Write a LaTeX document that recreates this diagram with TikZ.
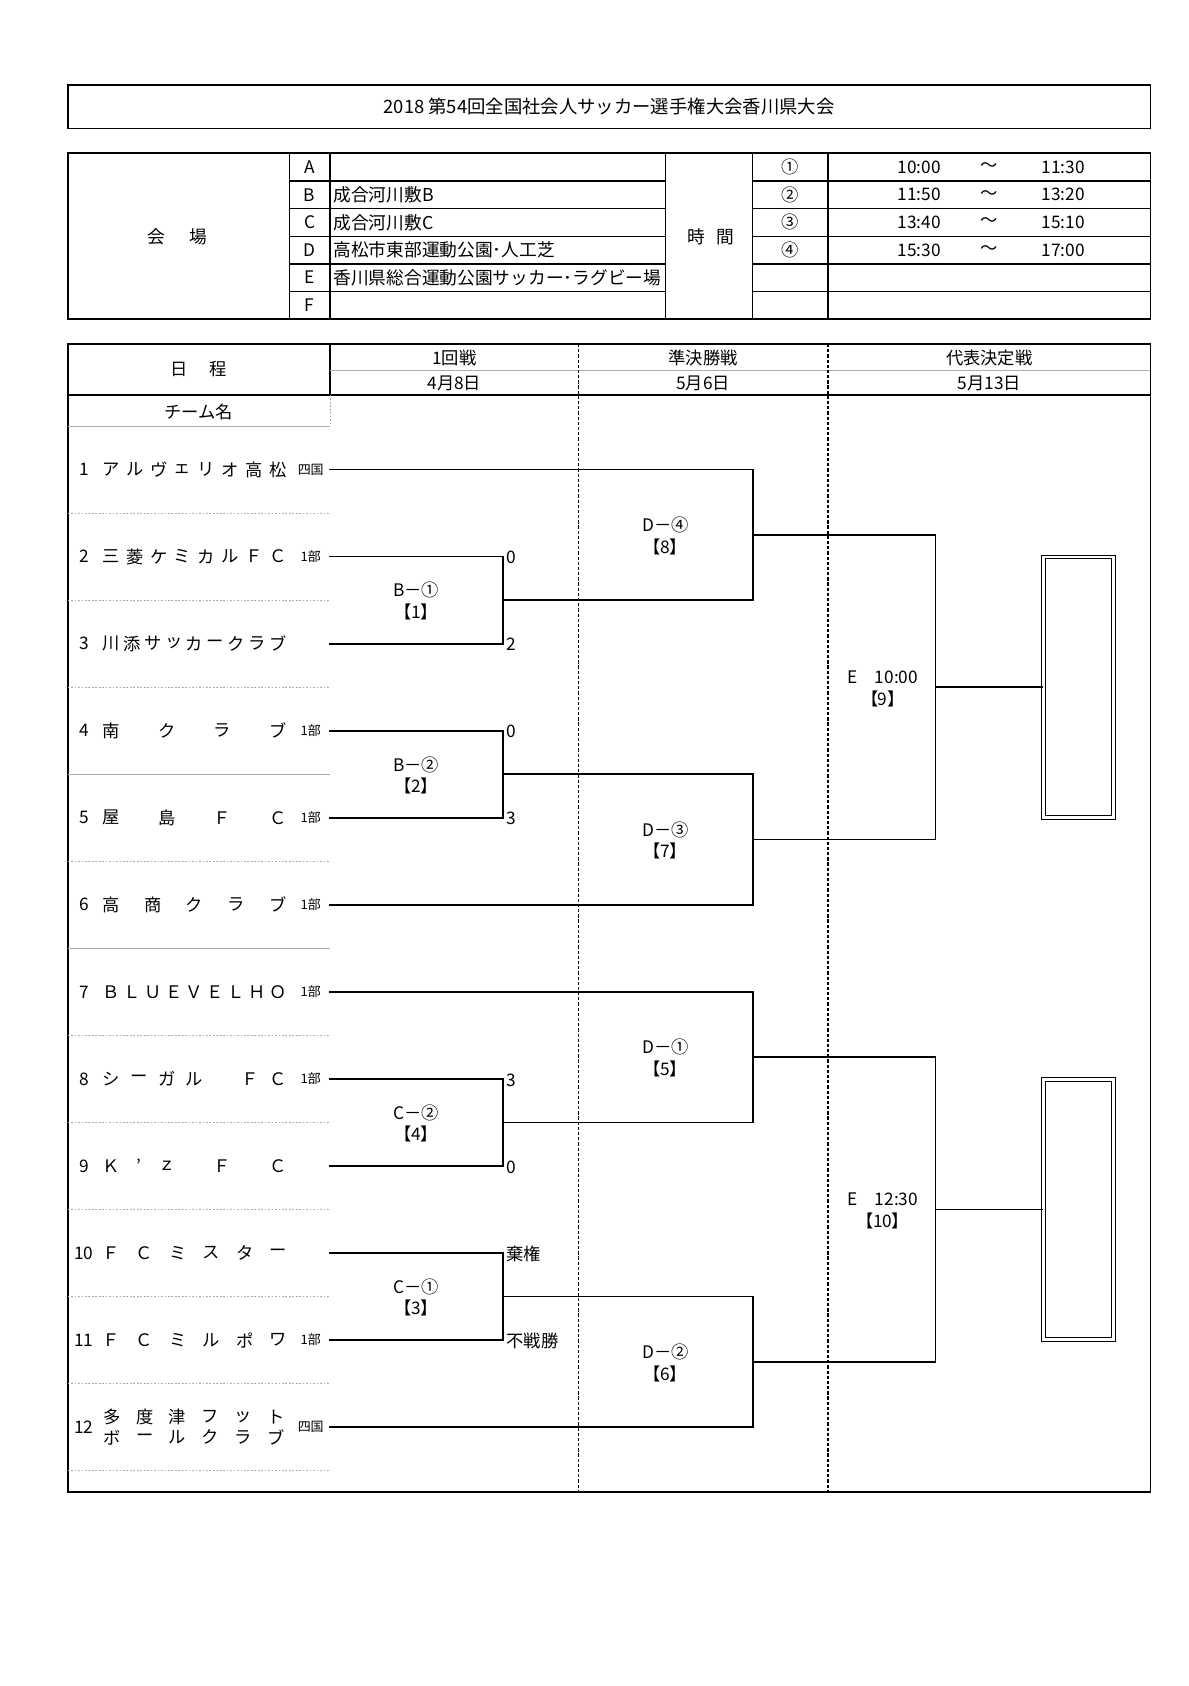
\documentclass[tikz,border=0pt]{standalone}
\usepackage{fontspec}
\setmainfont{Noto Sans CJK JP}
\newfontfamily\jpprop[RawFeature=+palt]{Noto Sans CJK JP}
\usepackage{tikz}
\usetikzlibrary{calc}
\usetikzlibrary{positioning}
\definecolor{lightrule}{rgb}{0.68,0.68,0.68}

\tikzset{
	outline/.style={line width=1.7pt},
	rule/.style={line width=1.3pt},
	faint/.style={line width=0.7pt, lightrule},
	faintdot/.style={faint, dash pattern=on 1.6pt off 1.6pt},
	colsep/.style={line width=1.1pt, dash pattern=on 3pt off 1.8pt},
	bracket/.style={line width=1.7pt},
	txt/.style={inner sep=0pt, font=\fontsize{16}{18}\selectfont},
	big/.style={inner sep=0pt, font=\fontsize{16.4}{19}\selectfont},
	headline/.style={inner sep=0pt, font=\fontsize{17}{19}\selectfont},
	lgtxt/.style={inner sep=0pt, font=\fontsize{12}{13}\selectfont},
	tag/.style={inner sep=0pt, font=\jpprop\fontsize{16}{18}\selectfont},
	trophy/.style={draw, double, double distance=2.4pt, line width=1.1pt,
		minimum width=65pt, minimum height=241pt, inner sep=0pt}
}

\begin{document}
\begin{tikzpicture}[x=0.9955pt,y=-1pt]
	\useasboundingbox (0,0) rectangle (1105,1561);

	\draw[outline] (63,79) rectangle (1070,119);
	\node[headline] (title) at (566.5,99) {2018 第54回全国社会人サッカー選手権大会香川県大会};

	\draw[outline] (63,142) rectangle (1070,295.4);
	\foreach \x in {269,307,619,700,770}
		\draw[rule] (\x,142) -- (\x,295.4);
	\foreach \k in {1,...,5}
	{
		\pgfmathsetmacro{\yy}{142+25.57*\k}
		\draw[rule] (269,\yy) -- (619,\yy);
		\draw[rule] (700,\yy) -- (1070,\yy);
	}
	\node[big] (venue) at (165,219) {会\hspace{22pt}場};
	\node[big] (hours) at (661,219) {時\hspace{10pt}間};
	\foreach \l/\v [count=\k] in {A/{}, B/成合河川敷B, C/成合河川敷C, D/高松市東部運動公園･人工芝, E/香川県総合運動公園サッカー･ラグビー場, F/{}}
	{
		\pgfmathsetmacro{\yy}{142+25.57*(\k-0.5)}
		\node[txt] (court\l) at (288,\yy) {\l};
		\node[big, anchor=west] (place\l) at (310,\yy) {\v};
	}
	\foreach \s/\a/\b [count=\k] in {①/10:00/11:30, ②/11:50/13:20, ③/13:40/15:10, ④/15:30/17:00}
	{
		\pgfmathsetmacro{\yy}{142+25.57*(\k-0.5)}
		\node[txt] (slot\k) at (735,\yy) {\s};
		\node[txt] (from\k) at (855,\yy) {\a};
		\node[txt] (tilde\k) at (920,\yy) {～};
		\node[txt] (to\k) at (989,\yy) {\b};
	}

	\draw[outline] (63,318.5) rectangle (1070,1381);
	\draw[outline] (63,365.7) -- (1070,365.7);
	\draw[rule] (307,318.5) -- (307,365.7);
	\draw[faint] (307,342.6) -- (1070,342.6);
	\draw[faintdot] (307,365.7) -- (307,394.4);
	\foreach \x in {538,770}
		\draw[colsep] (\x,318.5) -- (\x,1381);
	\node[txt] (sched) at (185,342) {日\hspace{20pt}程};
	\foreach \r/\d/\x [count=\k] in {1回戦/4月8日/422.5, 準決勝戦/5月6日/654, 代表決定戦/5月13日/920}
	{
		\node[txt] (round\k) at (\x,331) {\r};
		\node[txt] (date\k) at (\x,355) {\d};
	}
	\node[txt] (teamhead) at (185,381) {チーム名};
	\draw[faint] (63,394.4) -- (307,394.4);
	\foreach \k/\st in {1/faintdot, 2/faintdot, 3/faintdot, 4/faint, 5/faintdot, 6/faint, 7/faintdot, 8/faintdot, 9/faintdot, 10/faintdot, 11/faintdot, 12/faintdot}
	{
		\pgfmathsetmacro{\yy}{394.4+80.6*\k}
		\draw[\st] (63,\yy) -- (307,\yy);
	}

	\foreach \i/\n/\chars/\lg in {
		1/8/{ア,ル,ヴ,ェ,リ,オ,高,松}/四国,
		2/8/{三,菱,ケ,ミ,カ,ル,Ｆ,Ｃ}/1部,
		3/9/{川,添,サ,ッ,カ,ー,ク,ラ,ブ}/{},
		4/4/{南,ク,ラ,ブ}/1部,
		5/4/{屋,島,Ｆ,Ｃ}/1部,
		6/5/{高,商,ク,ラ,ブ}/1部,
		7/9/{Ｂ,Ｌ,Ｕ,Ｅ,Ｖ,Ｅ,Ｌ,Ｈ,Ｏ}/1部,
		8/7/{シ,ー,ガ,ル,{},Ｆ,Ｃ}/1部,
		9/7/{Ｋ,’,ｚ,{},Ｆ,{},Ｃ}/{},
		10/6/{Ｆ,Ｃ,ミ,ス,タ,ー}/{},
		11/6/{Ｆ,Ｃ,ミ,ル,ポ,ワ}/1部}
	{
		\pgfmathsetmacro{\yy}{434.7+80.6*(\i-1)}
		\node[txt] (no\i) at (78,\yy) {\i};
		\foreach \c [count=\k from 0] in \chars
			\node[txt] (tm\i-\k) at ({103+\k*156/(\n-1)},\yy) {\c};
		\node[lgtxt] (lg\i) at (289,\yy) {\lg};
	}
	\node[txt] (no12) at (78,1321.3) {12};
	\foreach \c [count=\k from 0] in {多,度,津,フ,ッ,ト}
		\node[txt] (tmA12-\k) at ({104+\k*153/5},1311.8) {\c};
	\foreach \c [count=\k from 0] in {ボ,ー,ル,ク,ラ,ブ}
		\node[txt] (tmB12-\k) at ({104+\k*153/5},1330.8) {\c};
	\node[lgtxt] (lg12) at (289,1321.3) {四国};

	\foreach \i in {1,...,12}
		\coordinate (t\i) at (306,{434.7+80.6*(\i-1)});
	\coordinate (semicol) at (700,0);
	\coordinate (finalcol) at (870,0);

	\foreach \a/\b/\q/\court/\sa/\sb in {2/3/1/B－①/0/2, 4/5/2/B－②/0/3, 8/9/4/C－②/3/0, 10/11/3/C－①/棄権/不戦勝}
	{
		\coordinate (q\q) at ($(t\a)!0.5!(t\b)+(162,0)$);
		\draw[bracket] (t\a) -| (q\q) |- (t\b);
		\node[txt] (mq\q) at ($(q\q)+(-81,-9)$) {\court};
		\node[tag] (nq\q) at ($(q\q)+(-81,11)$) {【\q】};
		\node[txt, anchor=west] (sa\q) at ($(t\a)+(165,1)$) {\sa};
		\node[txt, anchor=west] (sb\q) at ($(t\b)+(165,1)$) {\sb};
	}

	\foreach \u/\v/\s/\court/\m in {t1/q1/1/D－④/8, q2/t6/2/D－③/7, t7/q4/3/D－①/5, q3/t12/4/D－②/6}
	{
		\coordinate (mid\s) at ($(\u)!0.5!(\v)$);
		\coordinate (s\s) at (mid\s -| semicol);
		\draw[bracket] (\u) -| (s\s) |- (\v);
		\node[txt] (ms\s) at ($(s\s)+(-81,-9)$) {\court};
		\node[tag] (ns\s) at ($(s\s)+(-81,11)$) {【\m】};
	}

	\foreach \u/\v/\f/\lbl/\m in {s1/s2/1/{E　10:00}/9, s3/s4/2/{E　12:30}/10}
	{
		\coordinate (midf\f) at ($(\u)!0.5!(\v)$);
		\coordinate (f\f) at (midf\f -| finalcol);
		\draw[bracket] (\u) -| (f\f) |- (\v);
		\node[txt] (mf\f) at ($(f\f)+(-49,-9)$) {\lbl};
		\node[tag] (nf\f) at ($(f\f)+(-49,11)$) {【\m】};
		\node[trophy] (win\f) at ($(f\f)+(133,0)$) {};
		\draw[bracket] (f\f) -- (win\f.west);
	}
\end{tikzpicture}
\end{document}
